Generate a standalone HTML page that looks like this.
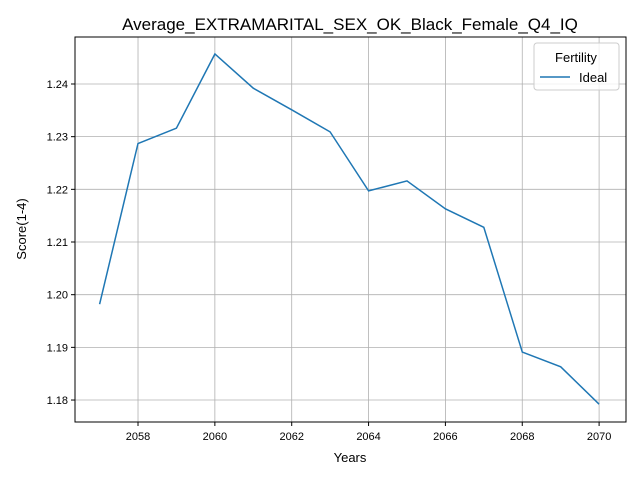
<!DOCTYPE html>
<html><head><meta charset="utf-8"><style>
html,body{margin:0;padding:0;background:#fff;}
svg{display:block;font-family:"Liberation Sans","DejaVu Sans",sans-serif;}
</style></head><body>
<svg id="chart" width="640" height="480" viewBox="0 0 640 480">
<text x="350" y="30" font-size="17" text-anchor="middle">Average_EXTRAMARITAL_SEX_OK_Black_Female_Q4_IQ</text>
<g id="grid"></g>
<g id="ticks"></g>
<path id="series" fill="none" stroke="#1f77b4" stroke-width="1.5"></path>
<rect x="75" y="37" width="551" height="385" fill="none" stroke="#000" stroke-width="1"></rect>
<text x="350" y="462" font-size="13" text-anchor="middle">Years</text>
<text x="26" y="229" font-size="13" text-anchor="middle" transform="rotate(-90 26 229)">Score(1-4)</text>
<g>
<rect x="534" y="43" width="85" height="47" rx="3" fill="#fff" fill-opacity="0.8" stroke="#ccc"></rect>
<text x="576" y="62" font-size="13" text-anchor="middle">Fertility</text>
<line x1="540" y1="77" x2="570" y2="77" stroke="#1f77b4" stroke-width="1.5"></line>
<text x="579" y="82" font-size="13">Ideal</text>
</g>
</svg>
<script>
const years = [2057,2058,2059,2060,2061,2062,2063,2064,2065,2066,2067,2068,2069,2070];
const scores = [1.1982,1.2287,1.2316,1.2457,1.2392,1.2351,1.2309,1.2197,1.2216,1.2163,1.2128,1.1891,1.1863,1.1792];
const xTicks = [2058,2060,2062,2064,2066,2068,2070];
const yTicks = [1.18,1.19,1.20,1.21,1.22,1.23,1.24];
const yTickLabels = ["1.18","1.19","1.20","1.21","1.22","1.23","1.24"];

const L=75,R=626,T=37,B=422;
const xMin=2056.36,xMax=2070.70,yMin=1.17583,yMax=1.24892;
function sx(v){return L+(v-xMin)/(xMax-xMin)*(R-L);}
function sy(v){return B-(v-yMin)/(yMax-yMin)*(B-T);}
const NS="http://www.w3.org/2000/svg";
const grid=document.getElementById('grid'), ticks=document.getElementById('ticks');
function mk(tag,attrs,parent){const e=document.createElementNS(NS,tag);for(const k in attrs)e.setAttribute(k,attrs[k]);parent.appendChild(e);return e;}
xTicks.forEach(function(t){
  const x=sx(t);
  const g=mk('line',{x1:x,y1:T,x2:x,y2:B,stroke:'#b0b0b0','stroke-width':0.8},grid);
  
  
  const tk=mk('line',{x1:x,y1:B,x2:x,y2:B+4,stroke:'#000'},ticks);
  
  
  const tx=mk('text',{x:x,y:B+18,'font-size':11,'text-anchor':'middle'},ticks);
  tx.textContent=t;
  
  
});
yTicks.forEach(function(t,i){
  const y=sy(t);
  const g=mk('line',{x1:L,y1:y,x2:R,y2:y,stroke:'#b0b0b0','stroke-width':0.8},grid);
  
  
  const tk=mk('line',{x1:L-4,y1:y,x2:L,y2:y,stroke:'#000'},ticks);
  
  
  const tx=mk('text',{x:L-7,y:y+4,'font-size':11,'text-anchor':'end'},ticks);
  tx.textContent=yTickLabels[i];
  
  
});
document.getElementById('series').setAttribute('d',years.map(function(y,i){return (i?'L':'M')+sx(y).toFixed(1)+','+sy(scores[i]).toFixed(1);}).join(''));
</script>
</body></html>
